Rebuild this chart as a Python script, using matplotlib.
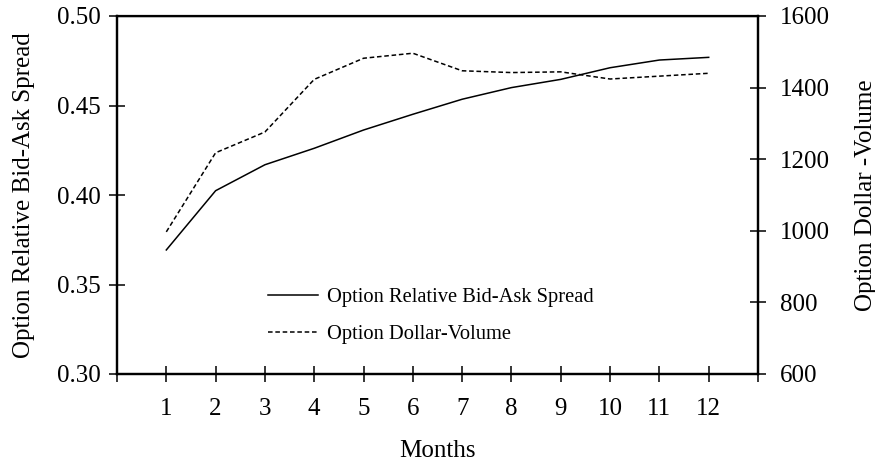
import matplotlib
matplotlib.use("Agg")
import matplotlib.pyplot as plt

months = [1, 2, 3, 4, 5, 6, 7, 8, 9, 10, 11, 12]
spread = [0.3693, 0.4024, 0.4169, 0.4261, 0.4363, 0.4451, 0.4535, 0.4600, 0.4646, 0.4711, 0.4754, 0.4769]
volume = [997, 1218, 1276, 1423, 1482, 1496, 1447, 1442, 1444, 1424, 1432, 1440]
left_ticks = [0.30, 0.35, 0.40, 0.45, 0.50]
right_ticks = [600, 800, 1000, 1200, 1400, 1600]

plt.rcParams['font.family'] = ['Liberation Serif', 'DejaVu Serif']

fig = plt.figure(figsize=(8.75, 4.62), dpi=100)
ax = fig.add_axes([117/875, 1-374/462, (758-117)/875, (374-16)/462])
ax2 = ax.twinx()

l1, = ax.plot(months, spread, color='black', lw=1.1, label='Option Relative Bid-Ask Spread')
l2, = ax2.plot(months, volume, color='black', lw=1.1, linestyle=(0, (3, 1.8)), label='Option Dollar-Volume')

ax.set_xlim(0, 13)
ax.set_ylim(0.30, 0.50)
ax2.set_ylim(600, 1600)
ax.set_xticks(range(0, 14))
ax.set_xticklabels([''] + [str(m) for m in months] + [''])
ax.set_yticks(left_ticks)
ax.set_yticklabels([f'{v:.2f}' for v in left_ticks])
ax2.set_yticks(right_ticks)
ax2.set_yticklabels([str(v) for v in right_ticks])

for a in (ax, ax2):
    for s in a.spines.values():
        s.set_linewidth(1.6)
    a.tick_params(direction='inout', length=11, width=1.1, labelsize=18, pad=6)
ax.spines['top'].set_linewidth(1.0)
ax.tick_params(axis='x', pad=12)
ax2.tick_params(axis='y', pad=10)

ax.set_xlabel('Months', fontsize=18, labelpad=14)
ax.set_ylabel('Option Relative Bid-Ask Spread', fontsize=18, labelpad=16)
ax2.set_ylabel('Option Dollar -Volume', fontsize=18, labelpad=18)

ax.legend(handles=[l1, l2], loc='upper left', bbox_to_anchor=(0.236, 0.24), frameon=False,
          fontsize=14.8, handlelength=2.4, handletextpad=0.45, labelspacing=0.85,
          borderaxespad=0, borderpad=0)

fig.savefig('out.png', dpi=100)
